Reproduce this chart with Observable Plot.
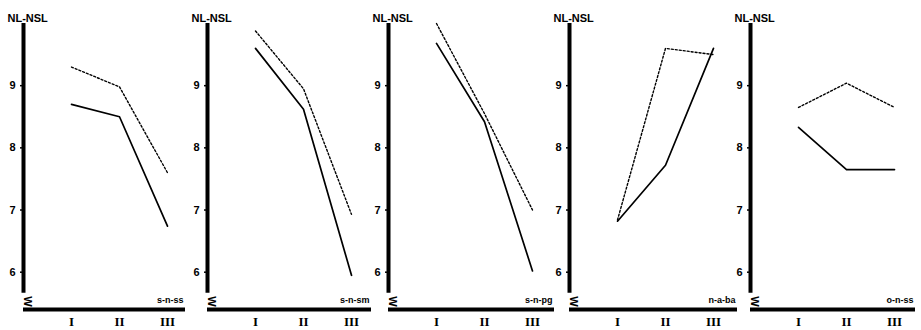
<!DOCTYPE html>
<html><head><meta charset="utf-8">
<script src="https://cdn.jsdelivr.net/npm/d3@7"></script>
<script src="https://cdn.jsdelivr.net/npm/@observablehq/plot@0.6"></script>
<style>body{margin:0;background:#fff;} #chart{position:relative;width:921px;height:330px;overflow:hidden;} #chart svg{position:absolute;top:0;}</style>
</head><body><div id="chart"></div>
<script>
const categories = ["I", "II", "III"];
const groups = ["s-n-ss", "s-n-sm", "s-n-pg", "n-a-ba", "o-n-ss"];
const solidValues = [
  [8.70, 8.50, 6.74],
  [9.60, 8.62, 5.95],
  [9.68, 8.42, 6.02],
  [6.82, 7.72, 9.60],
  [8.33, 7.65, 7.65]
];
const dottedValues = [
  [9.30, 8.98, 7.60],
  [9.88, 8.95, 6.93],
  [10.00, 8.55, 7.00],
  [6.84, 9.60, 9.50],
  [8.65, 9.04, 8.65]
];
const yTicks = [6, 7, 8, 9];
const yLabel = "NL-NSL";

// layout (pixels)
const layout = {
  axisX: [23, 207, 388, 569, 750],
  lineEnd: [185, 371, 554, 737, 915],
  marginLeft: 23,
  unit: 48
};

const chart = document.getElementById("chart");
const font = "'Liberation Sans', Arial, sans-serif";

groups.forEach((g, k) => {
  const rows = categories.map((c, i) => ({pos: i + 1, cat: c, solid: solidValues[k][i], dotted: dottedValues[k][i]}));
  const ml = layout.marginLeft;
  const w = layout.lineEnd[k] - layout.axisX[k] + ml;
  const p = Plot.plot({
    width: w, height: 330,
    marginLeft: ml, marginRight: 0, marginTop: 23, marginBottom: 21,
    style: {background: "transparent", overflow: "visible", fontFamily: font, color: "#000"},
    x: {domain: [0, 3], range: [ml, ml + 3 * layout.unit]},
    y: {domain: [5.4, 10]},
    marks: [
      Plot.ruleY([5.4], {strokeWidth: 4}),
      Plot.ruleX([0], {y1: 5.66, y2: 10, strokeWidth: 4}),
      Plot.text(["W"], {text: d => d, x: 0, y: 5.53, rotate: 90, dx: 4, fontSize: 11, fontWeight: "bold"}),
      Plot.axisY({ticks: yTicks, tickFormat: d => String(d), tickSize: 3, tickPadding: 5, fontSize: 11, fontWeight: "bold", label: null, strokeWidth: 1.5}),
      Plot.axisX({ticks: [1, 2, 3], tickFormat: d => categories[d - 1], tickSize: 0, tickPadding: 7, fontSize: 13, fontWeight: "bold", fontFamily: "'Liberation Serif', serif", label: null}),
      Plot.line(rows, {x: "pos", y: "dotted", strokeDasharray: "2,2", strokeWidth: 1.4}),
      Plot.line(rows, {x: "pos", y: "solid", strokeWidth: 1.7}),
      Plot.text([yLabel], {text: d => d, frameAnchor: "top-left", dx: -16, dy: -9, textAnchor: "start", fontSize: 11, fontWeight: "bold"}),
      Plot.text([g], {text: d => d, frameAnchor: "bottom-right", dx: -2, dy: -7, textAnchor: "end", fontSize: 9, fontWeight: "bold"})
    ]
  });
  p.style.left = (layout.axisX[k] - ml) + "px";
  chart.appendChild(p);
});
</script>
</body></html>
